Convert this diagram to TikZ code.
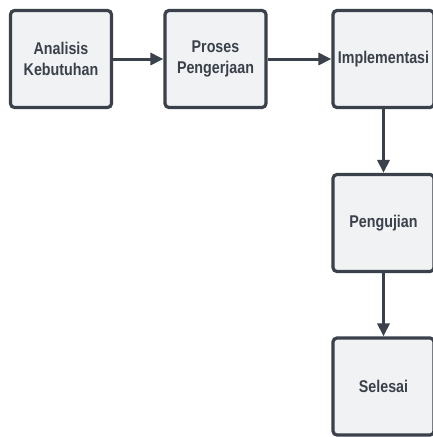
\documentclass[tikz,border=0pt]{standalone}
\usepackage{fontspec}
\setmainfont{Liberation Sans}[FakeStretch=0.84]
\usetikzlibrary{arrows.meta}
\definecolor{edge}{HTML}{3A414A}
\definecolor{boxfill}{HTML}{F1F2F4}
\tikzset{
  stepbox/.style={draw=edge, fill=boxfill, line width=3.2pt, rounded corners=4pt,
    minimum width=101pt, minimum height=97pt, inner sep=0pt,
    align=center, text=edge, font=\bfseries\fontsize{17}{21}\selectfont},
  flow/.style={draw=edge, line width=3pt, -{Triangle[length=13pt,width=12pt]}}
}
\begin{document}
\begin{tikzpicture}[x=1pt,y=-1pt]
\useasboundingbox (0,0) rectangle (433,437);
\clip (0,0) rectangle (433,437);
\fill[white] (0,0) rectangle (433,437);
\node[stepbox] (a) at (61,59) {Analisis\\Kebutuhan};
\node[stepbox] (b) at (215.5,59) {Proses\\Pengerjaan};
\node[stepbox] (c) at (383.5,59) {Implementasi};
\node[stepbox] (d) at (383.5,223) {Pengujian};
\node[stepbox] (e) at (383.5,386.5) {Selesai};
\draw[flow] (a) -- (b);
\draw[flow] (b) -- (c);
\draw[flow] (c) -- (d);
\draw[flow] (d) -- (e);
\end{tikzpicture}
\end{document}
